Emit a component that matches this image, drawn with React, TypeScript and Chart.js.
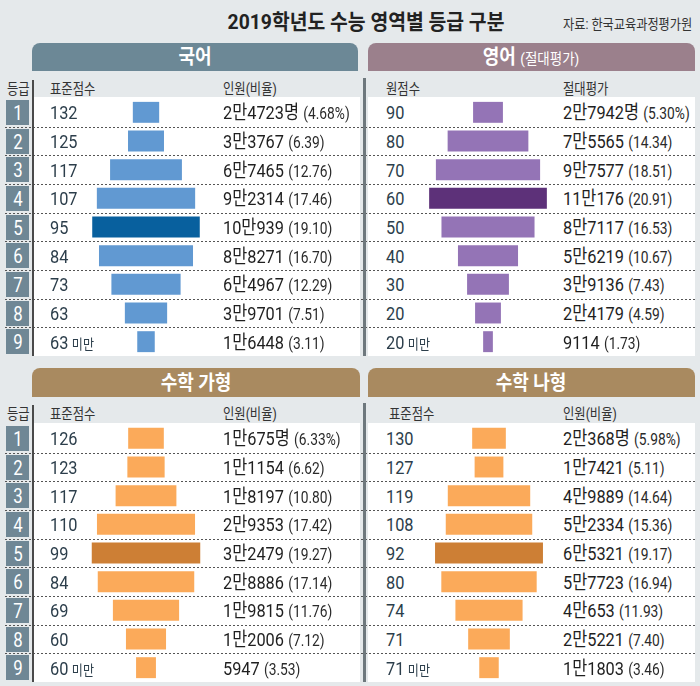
import React, { useEffect, useRef } from "react";
import { Chart, registerables } from "chart.js";

Chart.register(...registerables);

// ---------- data ----------
const grades = ["1", "2", "3", "4", "5", "6", "7", "8", "9"];

const koreanScores = ["132", "125", "117", "107", "95", "84", "73", "63", "63"];
const koreanCounts = ["2만4723명", "3만3767", "6만7465", "9만2314", "10만939", "8만8271", "6만4967", "3만9701", "1만6448"];
const koreanPct = [4.68, 6.39, 12.76, 17.46, 19.1, 16.7, 12.29, 7.51, 3.11];

const englishScores = ["90", "80", "70", "60", "50", "40", "30", "20", "20"];
const englishCounts = ["2만7942명", "7만5565", "9만7577", "11만176", "8만7117", "5만6219", "3만9136", "2만4179", "9114"];
const englishPct = [5.3, 14.34, 18.51, 20.91, 16.53, 10.67, 7.43, 4.59, 1.73];

const mathGaScores = ["126", "123", "117", "110", "99", "84", "69", "60", "60"];
const mathGaCounts = ["1만675명", "1만1154", "1만8197", "2만9353", "3만2479", "2만8886", "1만9815", "1만2006", "5947"];
const mathGaPct = [6.33, 6.62, 10.8, 17.42, 19.27, 17.14, 11.76, 7.12, 3.53];

const mathNaScores = ["130", "127", "119", "108", "92", "80", "74", "71", "71"];
const mathNaCounts = ["2만368명", "1만7421", "4만9889", "5만2334", "6만5321", "5만7723", "4만653", "2만5221", "1만1803"];
const mathNaPct = [5.98, 5.11, 14.64, 15.36, 19.17, 16.94, 11.93, 7.4, 3.46];

const titleText = "2019학년도 수능 영역별 등급 구분";
const sourceText = "자료: 한국교육과정평가원";
const belowLabel = "미만";

// ---------- layout ----------
const FONT = 'Roboto, "Noto Sans CJK KR", sans-serif';
const BG = "#e5e9eb";
const ROW_H = 258;
const PITCH = ROW_H / 9;
const TOP_ROWS = 98;
const BOT_ROWS = 424;
const BAR_W = 140;
const RANGE = 70 / 5.63;

type TxtProps = {
  x: number;
  y: number;
  size: number;
  color?: string;
  weight?: number | string;
  scale?: number;
  center?: boolean;
  children: React.ReactNode;
};

function Txt({ x, y, size, color = "#222", weight = 400, scale = 0.84, center = false, children }: TxtProps) {
  return (
    <div
      style={{
        position: "absolute",
        left: x,
        top: y,
        fontSize: size,
        color,
        fontWeight: weight as any,
        fontFamily: FONT,
        whiteSpace: "nowrap",
        lineHeight: 1,
        transform: center ? `translate(-50%, -50%) scaleX(${scale})` : `translateY(-50%) scaleX(${scale})`,
        transformOrigin: center ? "center center" : "left center",
      }}
    >
      {children}
    </div>
  );
}

function Rect({ x, y, w, h, bg, radius }: { x: number; y: number; w: number; h: number; bg: string; radius?: string }) {
  return <div style={{ position: "absolute", left: x, top: y, width: w, height: h, background: bg, borderRadius: radius }} />;
}

function BarColumn({ pct, color, highlight, left, top }: { pct: number[]; color: string; highlight: string; left: number; top: number }) {
  const ref = useRef<HTMLCanvasElement>(null);
  useEffect(() => {
    const hi = pct.indexOf(Math.max(...pct));
    const chart = new Chart(ref.current as HTMLCanvasElement, {
      type: "bar",
      data: {
        labels: grades,
        datasets: [
          {
            data: pct.map((p) => [-p / 2, p / 2]) as any,
            backgroundColor: pct.map((_, i) => (i === hi ? highlight : color)),
            borderWidth: 0,
            barPercentage: 0.73,
            categoryPercentage: 1,
          },
        ],
      },
      options: {
        indexAxis: "y",
        responsive: false,
        maintainAspectRatio: false,
        animation: false,
        events: [],
        layout: { padding: 0 },
        plugins: { legend: { display: false }, tooltip: { enabled: false } },
        scales: {
          x: { min: -RANGE, max: RANGE, display: false },
          y: { display: false },
        },
      },
    });
    return () => chart.destroy();
  }, []);
  return (
    <canvas
      ref={ref}
      width={BAR_W}
      height={ROW_H}
      style={{ position: "absolute", left, top, width: BAR_W, height: ROW_H }}
    />
  );
}

function Rows({
  top,
  scoreX,
  countX,
  scores,
  counts,
  pct,
}: {
  top: number;
  scoreX: number;
  countX: number;
  scores: string[];
  counts: string[];
  pct: number[];
}) {
  return (
    <>
      {scores.map((s, i) => {
        const cy = top + PITCH * (i + 0.5);
        const p = pct[i].toFixed(2) + (i === 0 ? "%" : "");
        return (
          <React.Fragment key={i}>
            <Txt x={scoreX} y={cy} size={19} color="#2c3e4b" scale={0.86}>
              {s}
              {i === 8 ? <span style={{ fontSize: 14, marginLeft: 4 }}>{belowLabel}</span> : null}
            </Txt>
            <Txt x={countX} y={cy} size={19} color="#1f1f1f" scale={0.86}>
              {counts[i]}
              <span style={{ fontSize: 16, marginLeft: 5, color: "#2a2a2a" }}>({p})</span>
            </Txt>
          </React.Fragment>
        );
      })}
    </>
  );
}

function Grid({ top, headerTextY }: { top: number; headerTextY: number }) {
  const items: React.ReactNode[] = [];
  items.push(<Rect key="wl" x={34} y={top - 1} w={326} h={ROW_H + 1} bg="#ffffff" />);
  items.push(<Rect key="wr" x={368} y={top - 1} w={327} h={ROW_H + 1} bg="#ffffff" />);
  grades.forEach((g, i) => {
    const y0 = top + PITCH * i;
    items.push(<Rect key={"gb" + i} x={6} y={Math.round(y0 + 2)} w={23} h={25} bg="#6f8795" />);
    items.push(
      <Txt key={"gt" + i} x={17.5} y={y0 + PITCH / 2 + 0.5} size={20} color="#ffffff" center scale={0.84}>
        {g}
      </Txt>
    );
  });
  for (let k = 1; k < 9; k++) {
    const y = Math.round(top + PITCH * k);
    items.push(
      <div
        key={"d" + k}
        style={{
          position: "absolute",
          left: 5,
          top: y,
          width: 690,
          height: 1,
          background: "repeating-linear-gradient(to right, #555 0 2px, transparent 2px 4px)",
        }}
      />
    );
  }
  items.push(<Rect key="vl" x={32} y={headerTextY - 9} w={2} h={top + ROW_H - headerTextY + 9} bg="#4a4a4a" />);
  items.push(<Rect key="vr" x={363} y={headerTextY - 11} w={3} h={top + ROW_H - headerTextY + 11} bg="#6e787d" />);
  return <>{items}</>;
}

function ColHeaders({ y, left2, right1, right2, rightFirst }: { y: number; left2: string; right1: string; right2: string; rightFirst: number }) {
  return (
    <>
      <Txt x={7} y={y} size={15} color="#333" scale={0.82}>등급</Txt>
      <Txt x={50} y={y} size={15} color="#333" scale={0.82}>표준점수</Txt>
      <Txt x={223} y={y} size={15} color="#333" scale={0.82}>{left2}</Txt>
      <Txt x={rightFirst} y={y} size={15} color="#333" scale={0.82}>{right1}</Txt>
      <Txt x={563} y={y} size={15} color="#333" scale={0.82}>{right2}</Txt>
    </>
  );
}

export default function App() {
  return (
    <div
      style={{
        position: "absolute",
        left: 0,
        top: 0,
        width: 700,
        height: 686,
        background: BG,
        overflow: "hidden",
        fontFamily: FONT,
      }}
    >
      <Txt x={366} y={22} size={21} weight={700} color="#222" center scale={0.92}>
        {titleText}
      </Txt>
      <Txt x={563} y={24} size={14} color="#333" scale={0.87}>
        {sourceText}
      </Txt>

      <Rect x={32} y={43} w={326} h={28} bg="#6c8896" radius="8px 8px 0 0" />
      <Rect x={368} y={43} w={327} h={28} bg="#9b808c" radius="8px 8px 0 0" />
      <Txt x={195} y={57} size={20} weight={700} color="#fff" center scale={0.9}>국어</Txt>
      <Txt x={531} y={57} size={20} weight={700} color="#fff" center scale={0.9}>
        영어<span style={{ fontSize: 15, fontWeight: 400, marginLeft: 5 }}>(절대평가)</span>
      </Txt>

      <Rect x={32} y={368} w={328} h={29} bg="#a98a60" radius="8px 8px 0 0" />
      <Rect x={368} y={368} w={327} h={29} bg="#a98a60" radius="8px 8px 0 0" />
      <Txt x={196} y={383} size={20} weight={700} color="#fff" center scale={0.9}>수학 가형</Txt>
      <Txt x={531} y={383} size={20} weight={700} color="#fff" center scale={0.9}>수학 나형</Txt>

      <ColHeaders y={89} left2="인원(비율)" right1="원점수" right2="절대평가" rightFirst={386} />
      <ColHeaders y={414} left2="인원(비율)" right1="표준점수" right2="인원(비율)" rightFirst={389} />

      <Grid top={TOP_ROWS} headerTextY={89} />
      <Grid top={BOT_ROWS} headerTextY={414} />

      <BarColumn pct={koreanPct} color="#6199d2" highlight="#08609e" left={76} top={TOP_ROWS} />
      <BarColumn pct={englishPct} color="#9474b6" highlight="#5d3179" left={418} top={TOP_ROWS} />
      <BarColumn pct={mathGaPct} color="#fbaa5a" highlight="#cd7f35" left={76} top={BOT_ROWS} />
      <BarColumn pct={mathNaPct} color="#fbaa5a" highlight="#cd7f35" left={419} top={BOT_ROWS} />

      <Rows top={TOP_ROWS} scoreX={50} countX={223} scores={koreanScores} counts={koreanCounts} pct={koreanPct} />
      <Rows top={TOP_ROWS} scoreX={386} countX={563} scores={englishScores} counts={englishCounts} pct={englishPct} />
      <Rows top={BOT_ROWS} scoreX={50} countX={223} scores={mathGaScores} counts={mathGaCounts} pct={mathGaPct} />
      <Rows top={BOT_ROWS} scoreX={386} countX={563} scores={mathNaScores} counts={mathNaCounts} pct={mathNaPct} />
    </div>
  );
}
